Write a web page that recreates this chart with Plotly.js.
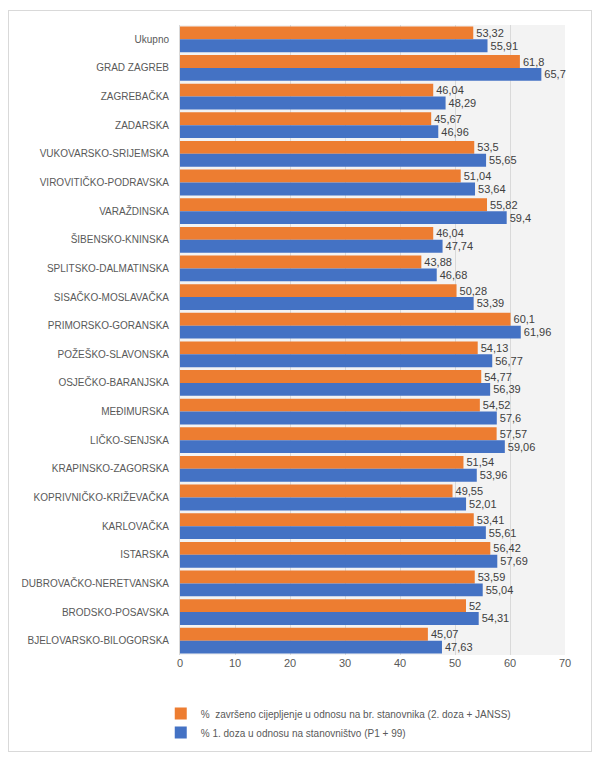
<!DOCTYPE html>
<html>
<head>
<meta charset="utf-8">
<script src="https://cdn.plot.ly/plotly-3.0.1.min.js"></script>
<style>
  body { margin: 0; background: #fff; }
  #frame { position: absolute; left: 8px; top: 10px; width: 582px; height: 740px; border: 1px solid #d9d9d9; }
</style>
</head>
<body>
<div id="frame"></div>
<div id="plot" style="width:600px;height:759px;"></div>
<script>
const regions = ["Ukupno", "GRAD ZAGREB", "ZAGREBAČKA", "ZADARSKA", "VUKOVARSKO-SRIJEMSKA",
  "VIROVITIČKO-PODRAVSKA", "VARAŽDINSKA", "ŠIBENSKO-KNINSKA", "SPLITSKO-DALMATINSKA",
  "SISAČKO-MOSLAVAČKA", "PRIMORSKO-GORANSKA", "POŽEŠKO-SLAVONSKA", "OSJEČKO-BARANJSKA",
  "MEĐIMURSKA", "LIČKO-SENJSKA", "KRAPINSKO-ZAGORSKA", "KOPRIVNIČKO-KRIŽEVAČKA",
  "KARLOVAČKA", "ISTARSKA", "DUBROVAČKO-NERETVANSKA", "BRODSKO-POSAVSKA", "BJELOVARSKO-BILOGORSKA"];
const completed = [53.32, 61.8, 46.04, 45.67, 53.5, 51.04, 55.82, 46.04, 43.88, 50.28, 60.1,
  54.13, 54.77, 54.52, 57.57, 51.54, 49.55, 53.41, 56.42, 53.59, 52, 45.07];
const firstDose = [55.91, 65.7, 48.29, 46.96, 55.65, 53.64, 59.4, 47.74, 46.68, 53.39, 61.96,
  56.77, 56.39, 57.6, 59.06, 53.96, 52.01, 55.61, 57.69, 55.04, 54.31, 47.63];
const seriesNames = ["%  završeno cijepljenje u odnosu na br. stanovnika (2. doza + JANSS)",
  "% 1. doza u odnosu na stanovništvo (P1 + 99)"];

const fmt = v => String(v).replace(".", ",");

function barTrace(vals, name, color) {
  return {
    type: "bar", orientation: "h", y: regions, x: vals, name: name,
    marker: {color: color},
    text: vals.map(fmt), textposition: "outside", cliponaxis: false,
    textfont: {color: "#404040", size: 11}
  };
}

const data = [
  barTrace(completed, seriesNames[0], "#ED7D31"),
  barTrace(firstDose, seriesNames[1], "#4472C4")
];

const layout = {
  width: 600, height: 759,
  margin: {t: 25, r: 35, b: 91, l: 180},
  barmode: "group", bargap: 0.1, bargroupgap: 0,
  paper_bgcolor: "rgba(0,0,0,0)", plot_bgcolor: "#f3f3f3",
  font: {family: "Liberation Sans, Arial", size: 11, color: "#595959"},
  xaxis: {range: [0, 70], dtick: 10, showgrid: true, gridcolor: "#d9d9d9",
    zeroline: false, ticks: "", tickfont: {size: 11}},
  yaxis: {autorange: "reversed", ticks: "", ticklen: 0, ticklabelstandoff: 8,
    showline: true, linecolor: "#d9d9d9", tickfont: {size: 10}},
  showlegend: true,
  legend: {orientation: "v", x: -0.05, xanchor: "left", y: -0.07, yanchor: "top",
    font: {size: 10, color: "#595959"}, traceorder: "normal", itemwidth: 30, tracegroupgap: 6}
};

Plotly.newPlot("plot", data, layout, {displayModeBar: false});
</script>
</body>
</html>
